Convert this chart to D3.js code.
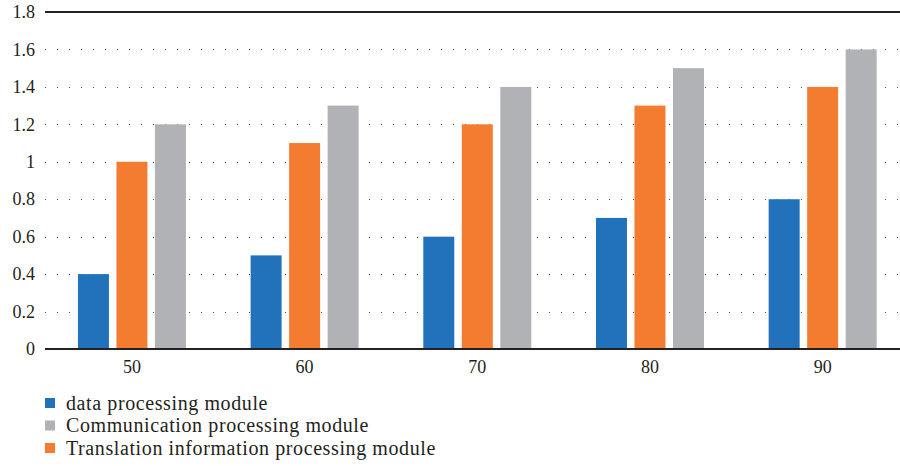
<!DOCTYPE html>
<html>
<head>
<meta charset="utf-8">
<script src="https://cdn.jsdelivr.net/npm/d3@7"></script>
<style>
  html, body { margin: 0; padding: 0; background: #fff; }
  svg { display: block; }
  svg text { font-family: "Liberation Serif", "DejaVu Serif", serif; fill: #231f20; }
</style>
</head>
<body>
<svg id="chart" width="900" height="466"></svg>
<script>
// Node count groups along the x axis
const categories = ["50", "60", "70", "80", "90"];
// Processing time per module
const dataProcessing = [0.4, 0.5, 0.6, 0.7, 0.8];
const translationProcessing = [1.0, 1.1, 1.2, 1.3, 1.4];
const communicationProcessing = [1.2, 1.3, 1.4, 1.5, 1.6];
const yTicks = [0, 0.2, 0.4, 0.6, 0.8, 1, 1.2, 1.4, 1.6, 1.8];

const seriesNames = ["data processing module", "Translation information processing module", "Communication processing module"];
const seriesValues = [dataProcessing, translationProcessing, communicationProcessing];
const seriesColors = ["#2272BB", "#F47C30", "#B1B2B5"];
// legend order
const legendOrder = [0, 2, 1];

const svg = d3.select("#chart");
const plotLeft = 45, plotRight = 900, plotTop = 12, plotBottom = 349;

const x0 = d3.scaleBand().domain(categories).range([45.6, 909]).paddingInner(0).paddingOuter(0);
const x1 = d3.scaleBand().domain(d3.range(seriesNames.length))
  .range([0, x0.bandwidth()]).paddingInner(0.195).paddingOuter(0.84);
const y = d3.scaleLinear().domain([0, 1.8]).range([plotBottom, plotTop]);

// dotted gridlines
svg.append("g").selectAll("line")
  .data(yTicks.filter(t => t > 0 && t < 1.8))
  .join("line")
  .attr("x1", plotLeft).attr("x2", plotRight)
  .attr("y1", d => Math.round(y(d)) + 0.5).attr("y2", d => Math.round(y(d)) + 0.5)
  .attr("stroke", "#555")
  .attr("stroke-width", 1)
  .attr("stroke-dasharray", "1,11");

// bars
const groups = svg.append("g").selectAll("g")
  .data(categories)
  .join("g")
  .attr("transform", d => `translate(${x0(d)},0)`);

groups.selectAll("rect")
  .data((d, i) => seriesValues.map((vals, s) => ({ s, v: vals[i] })))
  .join("rect")
  .attr("x", d => x1(d.s))
  .attr("width", x1.bandwidth())
  .attr("y", d => y(d.v))
  .attr("height", d => y(0) - y(d.v))
  .attr("fill", d => seriesColors[d.s]);

// top frame line
svg.append("line")
  .attr("x1", plotLeft).attr("x2", plotRight)
  .attr("y1", y(1.8)).attr("y2", y(1.8))
  .attr("stroke", "#222").attr("stroke-width", 2);

// x axis
const xAxis = svg.append("g")
  .attr("transform", `translate(0,${plotBottom})`)
  .call(d3.axisBottom(x0).tickSize(0).tickPadding(11));
xAxis.attr("font-family", null).attr("font-size", null);
xAxis.select(".domain").remove();
xAxis.append("line")
  .attr("x1", plotLeft).attr("x2", plotRight)
  .attr("y1", 0).attr("y2", 0)
  .attr("stroke", "#222").attr("stroke-width", 2);
xAxis.selectAll("text").style("font-size", "18px");

// y axis labels
const yAxis = svg.append("g")
  .attr("transform", `translate(${plotLeft},0)`)
  .call(d3.axisLeft(y).tickValues(yTicks).tickFormat(d3.format("~g")).tickSize(0).tickPadding(10));
yAxis.attr("font-family", null).attr("font-size", null);
yAxis.select(".domain").remove();
yAxis.selectAll("text").style("font-size", "18px");

// legend
const legend = svg.append("g").attr("transform", "translate(45,403)");
const items = legend.selectAll("g")
  .data(legendOrder)
  .join("g")
  .attr("transform", (d, i) => `translate(0,${i * 22.5})`);
items.append("rect")
  .attr("x", 0).attr("y", -5).attr("width", 10).attr("height", 10)
  .attr("fill", d => seriesColors[d]);
items.append("text")
  .attr("x", 21).attr("y", 0).attr("dy", "0.33em")
  .style("font-size", "20px")
  .style("letter-spacing", "0.6px")
  .text(d => seriesNames[d]);
</script>
</body>
</html>
